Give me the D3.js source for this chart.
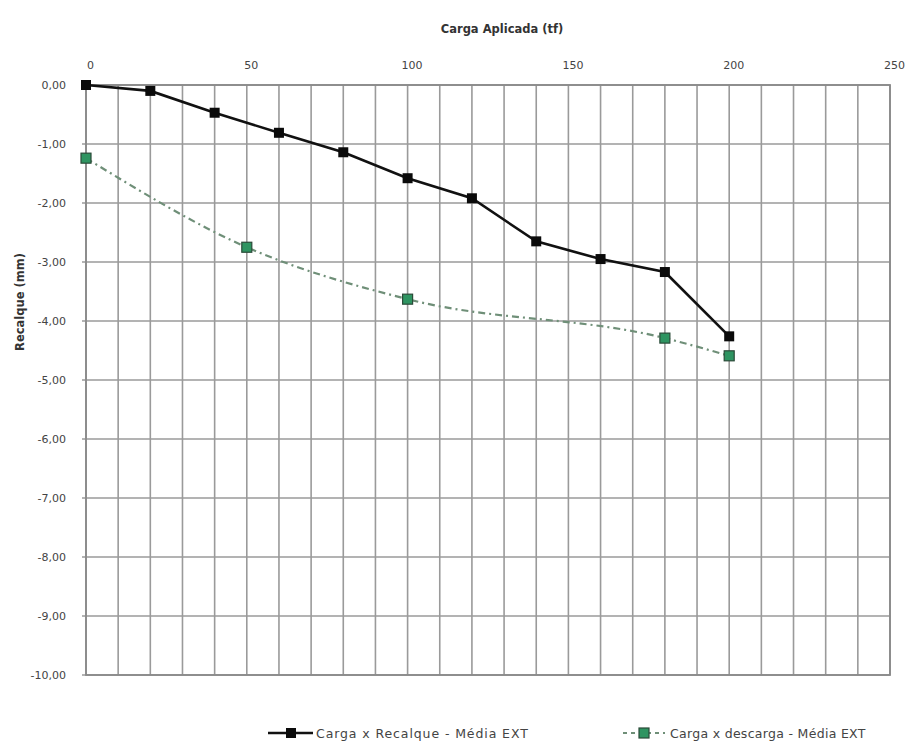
<!DOCTYPE html>
<html><head><meta charset="utf-8">
<script src="https://cdn.jsdelivr.net/npm/d3@7"></script>
<style>body{margin:0;background:#fff}svg{display:block}</style>
</head><body>
<svg id="c" width="912" height="747"></svg>
<script>
const cargaLoad = [0,20,40,60,80,100,120,140,160,180,200];
const recalque = [0,-0.10,-0.47,-0.81,-1.14,-1.58,-1.92,-2.65,-2.95,-3.17,-4.26];
const descargaLoad = [0,50,100,180,200];
const descarga = [-1.24,-2.75,-3.63,-4.29,-4.59];
const xTicks = [0,50,100,150,200,250];
const yTicks = [0,-1,-2,-3,-4,-5,-6,-7,-8,-9,-10];
const seriesNames = ["Carga x Recalque - Média EXT","Carga x descarga - Média EXT"];

const svg = d3.select("#c");
const L=86,R=890,T=85,B=675;
const x = d3.scaleLinear().domain([0,250]).range([L,R]);
const y = d3.scaleLinear().domain([0,-10]).range([T,B]);
const font = "'DejaVu Sans', sans-serif";

// grid
const g = svg.append("g");
g.selectAll("line.v").data(d3.range(0,251,10)).join("line")
  .attr("x1",d=>x(d)).attr("x2",d=>x(d)).attr("y1",T).attr("y2",B)
  .attr("stroke","#9a9a9a").attr("stroke-width",1.6);
g.selectAll("line.h").data(yTicks).join("line")
  .attr("x1",L-4).attr("x2",R).attr("y1",d=>y(d)).attr("y2",d=>y(d))
  .attr("stroke","#9a9a9a").attr("stroke-width",1.6);
g.append("rect").attr("x",L).attr("y",T).attr("width",R-L).attr("height",B-T)
  .attr("fill","none").attr("stroke","#8a8a8a").attr("stroke-width",1.8);

// axes via d3
const xAxis = d3.axisTop(x).tickValues(xTicks).tickSize(0).tickPadding(16).tickFormat(d3.format("d"));
const ax = svg.append("g").attr("transform",`translate(0,${T})`).call(xAxis);
ax.select(".domain").remove();
ax.selectAll("text").attr("font-family",font).attr("font-size",11).attr("fill","#444").attr("dx",4);

const yAxis = d3.axisLeft(y).tickValues(yTicks).tickSize(0).tickPadding(20)
  .tickFormat(d=>d3.format(".2f")(d).replace(".",",").replace("−","-"));
const ay = svg.append("g").attr("transform",`translate(${L},0)`).call(yAxis);
ay.select(".domain").remove();
ay.selectAll("text").attr("font-family",font).attr("font-size",11).attr("fill","#444");

// titles
svg.append("text").attr("x",502).attr("y",33).attr("text-anchor","middle")
  .attr("font-family",font).attr("font-size",11.5).attr("font-weight","bold").attr("fill","#333")
  .text("Carga Aplicada (tf)");
svg.append("text").attr("transform","translate(24,302) rotate(-90)").attr("text-anchor","middle")
  .attr("font-family",font).attr("font-size",11.5).attr("font-weight","bold").attr("fill","#333")
  .text("Recalque (mm)");

// series 2
const d2 = descargaLoad.map((v,i)=>[v,descarga[i]]);
svg.append("path").datum(d2)
  .attr("d",d3.line().x(d=>x(d[0])).y(d=>y(d[1])).curve(d3.curveMonotoneX))
  .attr("fill","none").attr("stroke","#6f8f78").attr("stroke-width",2.2)
  .attr("stroke-dasharray","7,4,2,4");
svg.selectAll("rect.m2").data(d2).join("rect")
  .attr("x",d=>x(d[0])-5).attr("y",d=>y(d[1])-5).attr("width",10).attr("height",10)
  .attr("fill","#2e9461").attr("stroke","#2a4a38").attr("stroke-width",1.2);

// series 1
const d1 = cargaLoad.map((v,i)=>[v,recalque[i]]);
svg.append("path").datum(d1)
  .attr("d",d3.line().x(d=>x(d[0])).y(d=>y(d[1])))
  .attr("fill","none").attr("stroke","#111").attr("stroke-width",2.6);
svg.selectAll("rect.m1").data(d1).join("rect")
  .attr("x",d=>x(d[0])-5).attr("y",d=>y(d[1])-5).attr("width",10).attr("height",10)
  .attr("fill","#0a0a0a");

// legend
const ly = 733;
svg.append("line").attr("x1",268).attr("x2",313).attr("y1",ly).attr("y2",ly).attr("stroke","#111").attr("stroke-width",2.6);
svg.append("rect").attr("x",286).attr("y",ly-5).attr("width",10).attr("height",10).attr("fill","#0a0a0a");
svg.append("text").attr("x",316).attr("y",ly+4.5).attr("font-family",font).attr("font-size",12.5).attr("letter-spacing",0.9).attr("fill","#444").text(seriesNames[0]);
svg.append("line").attr("x1",623).attr("x2",665).attr("y1",ly).attr("y2",ly).attr("stroke","#6f8f78").attr("stroke-width",2.2).attr("stroke-dasharray","4,4");
svg.append("rect").attr("x",639).attr("y",ly-5).attr("width",10).attr("height",10).attr("fill","#2e9461").attr("stroke","#2a4a38").attr("stroke-width",1.2);
svg.append("text").attr("x",670).attr("y",ly+4.5).attr("font-family",font).attr("font-size",12.5).attr("letter-spacing",0.3).attr("fill","#444").text(seriesNames[1]);
</script>
</body></html>
